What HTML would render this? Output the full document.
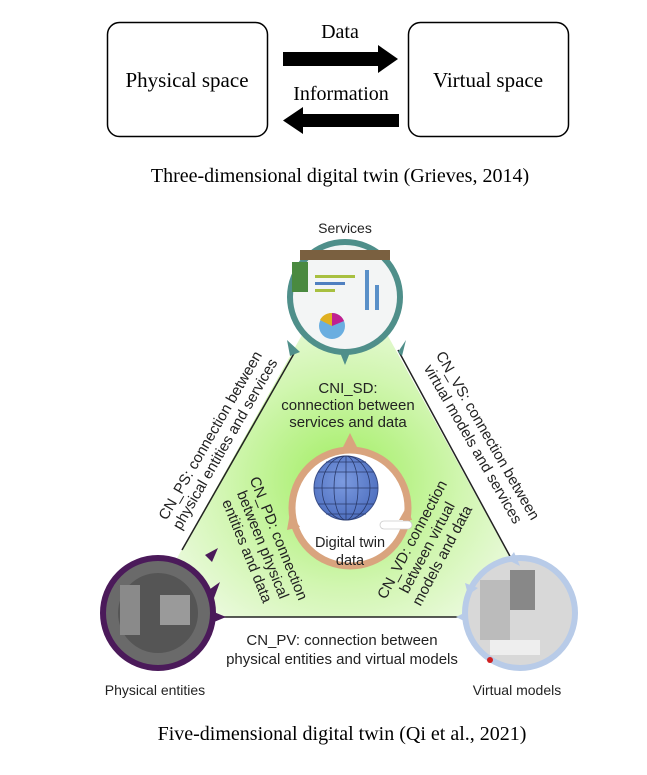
<!DOCTYPE html>
<html><head><meta charset="utf-8"><style>
html,body{margin:0;padding:0;background:#fff;width:647px;height:775px;overflow:hidden}
svg{display:block}
.s{font-family:"Liberation Serif",serif;fill:#000}
.a{font-family:"Liberation Sans",sans-serif;fill:#222}
</style></head><body>
<svg width="647" height="775" viewBox="0 0 647 775" xmlns="http://www.w3.org/2000/svg">
<defs>
<radialGradient id="g" cx="0.5" cy="0.62" r="0.55">
<stop offset="0" stop-color="#a0ee60"/><stop offset="0.55" stop-color="#d2f6b2"/><stop offset="1" stop-color="#f2fbea"/>
</radialGradient>
<radialGradient id="globe" cx="0.45" cy="0.4" r="0.6"><stop offset="0" stop-color="#7c9be0"/><stop offset="1" stop-color="#4f70c0"/></radialGradient>
</defs>
<rect x="107.5" y="22.5" width="160" height="114" rx="12" fill="#fff" stroke="#000" stroke-width="1.5"/>
<rect x="408.5" y="22.5" width="160" height="114" rx="12" fill="#fff" stroke="#000" stroke-width="1.5"/>
<text x="187" y="87" class="s" font-size="21" text-anchor="middle">Physical space</text>
<text x="488" y="87" class="s" font-size="21" text-anchor="middle">Virtual space</text>
<text x="340" y="38" class="s" font-size="20" text-anchor="middle">Data</text>
<text x="341" y="100" class="s" font-size="20" text-anchor="middle">Information</text>
<polygon points="283,52 378,52 378,45 398,59 378,73 378,66 283,66" fill="#000"/>
<polygon points="399,114 303,114 303,107 283,120.5 303,134 303,127 399,127" fill="#000"/>
<text x="340" y="182" class="s" font-size="20" text-anchor="middle">Three-dimensional digital twin (Grieves, 2014)</text>
<polygon points="345,258 144,617 543,617" fill="url(#g)"/>
<line x1="296" y1="350" x2="182" y2="550" stroke="#222" stroke-width="1.5"/>
<line x1="398" y1="350" x2="512" y2="560" stroke="#222" stroke-width="1.5"/>
<line x1="218" y1="617" x2="465" y2="617" stroke="#222" stroke-width="1.5"/>
<circle cx="350" cy="508" r="58" fill="#fff" stroke="#d9a47e" stroke-width="7"/>
<polygon points="343,447 350,433 357,447" fill="#d9a47e"/>
<polygon points="290,513 300,527 287,530" fill="#d9a47e"/>
<polygon points="407,506 412,520 399,520" fill="#d9a47e"/>
<circle cx="346" cy="488" r="32" fill="url(#globe)" stroke="#3a4f8a" stroke-width="1"/>
<g stroke="#2a3a6a" stroke-width="0.8" fill="none">
<ellipse cx="346" cy="488" rx="12" ry="32"/><ellipse cx="346" cy="488" rx="24" ry="32"/><line x1="346" y1="456" x2="346" y2="520"/>
<line x1="314" y1="488" x2="378" y2="488"/><line x1="318" y1="472" x2="374" y2="472"/><line x1="318" y1="504" x2="374" y2="504"/><line x1="326" y1="462" x2="366" y2="462"/><line x1="326" y1="514" x2="366" y2="514"/>
</g>
<rect x="380" y="521" width="32" height="8" rx="4" fill="#fff" stroke="#ccc" stroke-width="0.8"/>
<text x="350" y="547" class="a" font-size="14.5" text-anchor="middle">Digital twin</text>
<text x="350" y="565" class="a" font-size="14.5" text-anchor="middle">data</text>
<circle cx="345" cy="297" r="55" fill="#f3f5f5" stroke="#4f8f8a" stroke-width="6"/>
<polygon points="287,340 300,352 290,356" fill="#4f8f8a"/>
<polygon points="398,352 406,340 402,356" fill="#4f8f8a"/>
<polygon points="339,350 345,365 351,350" fill="#4f8f8a"/>
<rect x="300" y="250" width="90" height="10" fill="#7a6040"/>
<rect x="292" y="262" width="16" height="30" fill="#4a8a40"/>
<rect x="315" y="275" width="40" height="3" fill="#a8c040"/><rect x="315" y="282" width="30" height="3" fill="#5080c0"/><rect x="315" y="289" width="20" height="3" fill="#a8c040"/>
<rect x="365" y="270" width="4" height="40" fill="#5a90c8"/><rect x="375" y="285" width="4" height="25" fill="#5a90c8"/>
<circle cx="332" cy="326" r="13" fill="#6aaee0"/><path d="M332,326 L320,320 A13,13 0 0,1 332,313Z" fill="#e0b020"/><path d="M332,326 L332,313 A13,13 0 0,1 344,321Z" fill="#c02090"/>
<text x="345" y="233" class="a" font-size="14" text-anchor="middle">Services</text>
<circle cx="158" cy="613" r="55" fill="#6a6a6a" stroke="#4b1a5a" stroke-width="6"/>
<circle cx="158" cy="613" r="40" fill="#555"/><rect x="120" y="585" width="20" height="50" fill="#8a8a8a"/><rect x="160" y="595" width="30" height="30" fill="#9a9a9a"/>
<polygon points="205,555 218,548 212,562" fill="#4b1a5a"/>
<polygon points="206,592 220,582 214,598" fill="#4b1a5a"/>
<polygon points="214,612 226,617 214,622" fill="#4b1a5a"/>
<text x="155" y="695" class="a" font-size="14" text-anchor="middle">Physical entities</text>
<circle cx="520" cy="613" r="55" fill="#d8d8d8" stroke="#b8cbe8" stroke-width="6"/>
<rect x="480" y="580" width="30" height="60" fill="#bbb"/><rect x="510" y="570" width="25" height="40" fill="#888"/><rect x="490" y="640" width="50" height="15" fill="#eee"/>
<circle cx="490" cy="660" r="3" fill="#d02020"/>
<polygon points="508,560 514,552 520,566" fill="#b8cbe8"/>
<polygon points="465,583 478,588 468,595" fill="#b8cbe8"/>
<polygon points="466,612 466,622 456,617" fill="#b8cbe8"/>
<text x="517" y="695" class="a" font-size="14" text-anchor="middle">Virtual models</text>
<text x="348" y="393" class="a" font-size="15" text-anchor="middle">CNI_SD:</text>
<text x="348" y="410" class="a" font-size="15" text-anchor="middle">connection between</text>
<text x="348" y="427" class="a" font-size="15" text-anchor="middle">services and data</text>
<g transform="translate(218,440) rotate(-60)"><text x="0" y="-4" class="a" font-size="15" text-anchor="middle">CN_PS: connection between</text><text x="0" y="13" class="a" font-size="15" text-anchor="middle">physical entities and services</text></g>
<g transform="translate(480,440) rotate(60)"><text x="0" y="-4" class="a" font-size="15" text-anchor="middle">CN_VS: connection between</text><text x="0" y="13" class="a" font-size="15" text-anchor="middle">virtual models and services</text></g>
<g transform="translate(262,545) rotate(68)"><text x="0" y="-13" class="a" font-size="15" text-anchor="middle">CN_PD: connection</text><text x="0" y="4" class="a" font-size="15" text-anchor="middle">between physical</text><text x="0" y="21" class="a" font-size="15" text-anchor="middle">entities and data</text></g>
<g transform="translate(428,548) rotate(-62)"><text x="0" y="-13" class="a" font-size="15" text-anchor="middle">CN_VD: connection</text><text x="0" y="4" class="a" font-size="15" text-anchor="middle">between virtual</text><text x="0" y="21" class="a" font-size="15" text-anchor="middle">models and data</text></g>
<text x="342" y="645" class="a" font-size="15" text-anchor="middle">CN_PV: connection between</text>
<text x="342" y="664" class="a" font-size="15" text-anchor="middle">physical entities and virtual models</text>
<text x="342" y="740" class="s" font-size="20" text-anchor="middle">Five-dimensional digital twin (Qi et al., 2021)</text>
</svg>
</body></html>
